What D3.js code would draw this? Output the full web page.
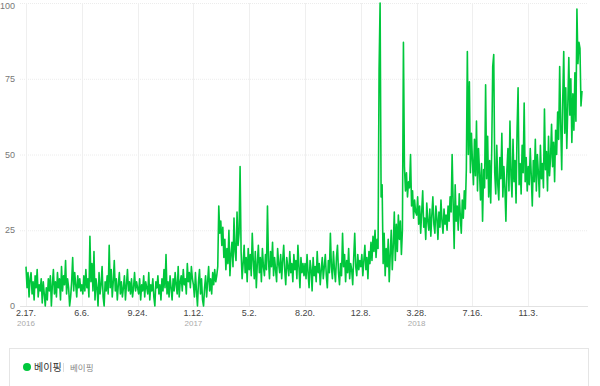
<!DOCTYPE html>
<html>
<head>
<meta charset="utf-8">
<script src="https://cdn.jsdelivr.net/npm/d3@7"></script>
<style>
  body { margin: 0; background: #fff; }
  svg { display: block; font-family: "Noto Sans CJK KR", "Noto Sans", sans-serif; }
  .num { font-family: "Liberation Sans", "DejaVu Sans", sans-serif; }
</style>
</head>
<body>
<svg id="chart" width="600" height="386"></svg>
<script>
// DATA - one value every 2 days, starting 2016-02-17
const startDate = "2016-02-17";
const seriesName = "베이핑";
const yTicks = [0, 25, 50, 75, 100];
const xTickLabels = ["2.17.", "6.6.", "9.24.", "1.12.", "5.2.", "8.20.", "12.8.", "3.28.", "7.16.", "11.3."];
const yearLabels = {0: "2016", 3: "2017", 7: "2018"};

// one chunk per tick interval (110 days)
const p1 = [13, 6, 11, 3, 9, 11, 4, 8, 2, 10, 6, 12, 3, 7, 5, 9, 1, 8, 4, 0, 6, 2, 9, 5, 10, 0, 7, 12, 4, 8, 3, 11, 6, 9, 2, 13, 5, 10, 7, 15, 4, 9, 6, 0, 3, 8, 16, 5, 11, 7, 3, 10, 6, 9, 5];
const p2 = [7, 4, 10, 5, 12, 6, 9, 3, 23, 8, 14, 5, 18, 2, 9, 6, 0, 11, 4, 7, 13, 3, 0, 8, 5, 10, 4, 20, 6, 12, 3, 8, 15, 5, 9, 2, 7, 11, 4, 8, 3, 6, 10, 2, 7, 12, 5, 8, 4, 9, 3, 6, 11, 5, 8];
const p3 = [6, 4, 9, 2, 7, 5, 10, 3, 8, 6, 4, 11, 2, 7, 5, 9, 3, 0, 8, 6, 10, 4, 7, 2, 9, 5, 12, 6, 17, 4, 8, 3, 10, 6, 2, 9, 5, 11, 7, 4, 13, 3, 8, 10, 5, 12, 7, 9, 4, 14, 8, 11, 6, 13, 9];
const p4 = [7, 3, 11, 5, 0, 8, 12, 4, 9, 2, 0, 6, 10, 3, 8, 13, 5, 9, 4, 11, 7, 12, 8, 10, 13, 33, 24, 28, 20, 26, 16, 22, 12, 19, 14, 25, 10, 17, 21, 13, 29, 18, 15, 31, 20, 24, 46, 18, 9, 14, 20, 11, 16, 8, 19];
const p5 = [12, 17, 10, 24, 15, 9, 18, 6, 14, 20, 11, 16, 8, 19, 13, 10, 17, 12, 33, 15, 9, 18, 13, 21, 10, 16, 12, 8, 19, 14, 11, 17, 9, 15, 20, 12, 7, 16, 13, 10, 18, 11, 14, 8, 17, 12, 15, 9, 20, 13, 6, 16, 11, 14, 10];
const p6 = [14, 9, 17, 11, 6, 15, 12, 5, 16, 10, 13, 8, 18, 11, 14, 7, 12, 16, 9, 13, 17, 10, 6, 15, 11, 24, 13, 9, 18, 12, 8, 16, 20, 11, 7, 14, 10, 24, 13, 17, 8, 15, 11, 19, 9, 14, 12, 7, 16, 24, 13, 10, 17, 12, 15];
const p7 = [13, 17, 10, 15, 20, 12, 16, 9, 18, 14, 21, 15, 23, 18, 25, 16, 22, 19, 78, 100, 36, 40, 14, 24, 10, 19, 13, 22, 8, 17, 25, 12, 20, 31, 15, 27, 18, 30, 22, 28, 17, 25, 87, 46, 38, 44, 36, 41, 39, 50, 33, 38, 29, 35, 31];
const p8 = [30, 36, 27, 33, 24, 31, 38, 26, 29, 22, 34, 28, 25, 32, 23, 30, 36, 27, 24, 33, 29, 22, 31, 26, 35, 28, 24, 32, 27, 30, 25, 33, 28, 36, 31, 50, 34, 19, 40, 28, 33, 25, 37, 30, 24, 35, 29, 38, 32, 45, 84, 50, 74, 44, 57];
const p9 = [48, 40, 55, 43, 61, 38, 52, 44, 35, 47, 28, 45, 39, 73, 42, 56, 36, 48, 34, 51, 79, 83, 44, 37, 53, 40, 35, 49, 42, 57, 36, 46, 39, 28, 45, 52, 38, 61, 43, 36, 55, 41, 48, 34, 58, 72, 40, 47, 37, 53, 44, 67, 41, 49, 38];
const p10 = [46, 40, 52, 43, 33, 48, 41, 55, 38, 50, 44, 36, 53, 42, 47, 39, 65, 45, 51, 38, 56, 43, 49, 60, 46, 54, 41, 58, 50, 64, 55, 79, 60, 45, 68, 84, 57, 72, 52, 66, 82, 63, 75, 54, 70, 58, 77, 61, 98, 80, 87, 85, 66, 71];

const values = [].concat(p1, p2, p3, p4, p5, p6, p7, p8, p9, p10);

const parse = d3.timeParse("%Y-%m-%d");
const t0 = parse(startDate);
const data = values.map((v, i) => ({ date: d3.timeDay.offset(t0, i * 2), value: v }));
const tickDates = xTickLabels.map((d, i) => d3.timeDay.offset(t0, i * 110));

const svg = d3.select("#chart");
const plot = { left: 26, right: 582, top: 3, bottom: 306 };

const x = d3.scaleTime()
  .domain(d3.extent(data, d => d.date))
  .range([plot.left, plot.right]);

const y = d3.scaleLinear()
  .domain([0, 100])
  .range([plot.bottom, plot.top]);

// horizontal grid
svg.append("g")
  .selectAll("line")
  .data(yTicks)
  .join("line")
  .attr("x1", 20)
  .attr("x2", 588)
  .attr("y1", d => y(d) + 0.5)
  .attr("y2", d => y(d) + 0.5)
  .attr("stroke", d => d === 0 ? "#e2e2e2" : "#ececec")
  .attr("stroke-dasharray", d => d === 0 ? null : "1,1");

// vertical grid
svg.append("g")
  .selectAll("line")
  .data(tickDates)
  .join("line")
  .attr("x1", d => Math.round(x(d)) + 0.5)
  .attr("x2", d => Math.round(x(d)) + 0.5)
  .attr("y1", plot.top)
  .attr("y2", plot.bottom)
  .attr("stroke", "#efefef");

// y labels
svg.append("g")
  .selectAll("text")
  .data(yTicks)
  .join("text")
  .attr("class", "num")
  .attr("x", 15)
  .attr("y", d => Math.max(y(d), 6))
  .attr("dy", "0.35em")
  .attr("text-anchor", "end")
  .attr("font-size", 9)
  .attr("fill", "#777")
  .text(d => d);

// x labels
const xl = svg.append("g");
xl.selectAll("text.tick")
  .data(tickDates)
  .join("text")
  .attr("class", "num tick")
  .attr("x", d => x(d))
  .attr("y", 316)
  .attr("text-anchor", "middle")
  .attr("font-size", 9)
  .attr("fill", "#444")
  .text((d, i) => xTickLabels[i]);

xl.selectAll("text.year")
  .data(Object.keys(yearLabels))
  .join("text")
  .attr("class", "num year")
  .attr("x", k => x(tickDates[+k]))
  .attr("y", 326)
  .attr("text-anchor", "middle")
  .attr("font-size", 8)
  .attr("fill", "#aaa")
  .text(k => yearLabels[k]);

// line
const line = d3.line()
  .x(d => x(d.date))
  .y(d => y(d.value));

svg.append("path")
  .datum(data)
  .attr("d", line)
  .attr("fill", "none")
  .attr("stroke", "#00c73c")
  .attr("stroke-width", 1.6)
  .attr("stroke-linejoin", "round");

// legend box
svg.append("rect")
  .attr("x", 9.5)
  .attr("y", 348.5)
  .attr("width", 579)
  .attr("height", 60)
  .attr("fill", "#fff")
  .attr("stroke", "#e5e5e5");

svg.append("circle")
  .attr("cx", 27)
  .attr("cy", 367)
  .attr("r", 4)
  .attr("fill", "#00c73c");

svg.append("text")
  .attr("x", 34)
  .attr("y", 370.5)
  .attr("font-size", 10)
  .attr("fill", "#333")
  .text(seriesName);

svg.append("line")
  .attr("x1", 63.5).attr("x2", 63.5)
  .attr("y1", 363).attr("y2", 372)
  .attr("stroke", "#ddd");

svg.append("text")
  .attr("x", 70)
  .attr("y", 370.5)
  .attr("font-size", 8.5)
  .attr("fill", "#888")
  .text(seriesName);
</script>
</body>
</html>
